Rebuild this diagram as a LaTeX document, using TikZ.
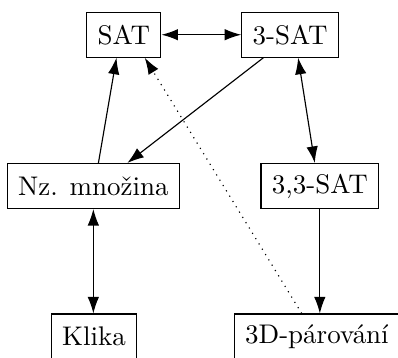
\documentclass[tikz,border=0pt]{standalone}
\usepackage{tikz}
\usetikzlibrary{arrows.meta,positioning}

\begin{document}
\begin{tikzpicture}[>={Latex[length=6.5pt,width=4.5pt]}, line width=0.45pt, box/.style={rectangle, draw, minimum height=0.62cm, inner xsep=4.3pt, font=\fontsize{10.6pt}{12pt}\selectfont}]
  \useasboundingbox (0,0) rectangle (5.5,-4.934);
  \node[box] (sat) at (1.71, -0.48) {SAT};
  \node[box] (tsat) at (4.01, -0.48) {3-SAT};
  \node[box] (nz) at (1.29, -2.57) {Nz. množina};
  \node[box] (ttsat) at (4.42, -2.57) {3,3-SAT};
  \node[box] (klika) at (1.30, -4.65) {Klika};
  \node[box] (par) at (4.38, -4.65) {3D-párování};
  \draw[<->] (sat) -- (tsat);
  \draw[->] ([xshift=0.07cm]nz.north) -- ([xshift=-0.1cm]sat.south);
  \draw[->] ([xshift=-0.37cm]tsat.south) -- ([xshift=0.47cm]nz.north);
  \draw[<->] ([xshift=0.11cm]tsat.south) -- ([xshift=-0.07cm]ttsat.north);
  \draw[->, dotted] ([xshift=-0.21cm]par.north) -- ([xshift=0.29cm]sat.south);
  \draw[->] (ttsat) -- (ttsat |- par.north);
  \draw[<->] (nz) -- (nz |- klika.north);
\end{tikzpicture}
\end{document}
